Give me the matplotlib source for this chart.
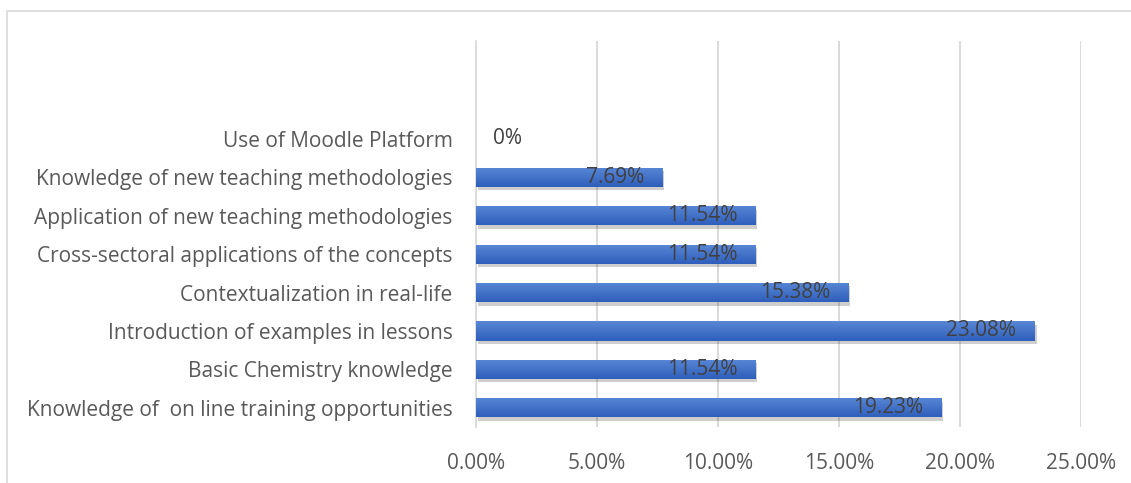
import matplotlib.pyplot as plt
import matplotlib.patheffects as pe
from matplotlib.patches import Rectangle
from matplotlib.ticker import FuncFormatter, MultipleLocator
import numpy as np

# Topics, bottom to top
topics = [
    "Knowledge of  on line training opportunities",
    "Basic Chemistry knowledge",
    "Introduction of examples in lessons",
    "Contextualization in real-life",
    "Cross-sectoral applications of the concepts",
    "Application of new teaching methodologies",
    "Knowledge of new teaching methodologies",
    "Use of Moodle Platform",
]

# Share of responses (%)
shares = [19.23, 11.54, 23.08, 15.38, 11.54, 11.54, 7.69, 0.0]

plt.rcParams['font.family'] = ['Open Sans', 'DejaVu Sans']
FS = 15

fig = plt.figure(figsize=(11.31, 4.83), dpi=100)
ax = fig.add_axes([476 / 1131, 56 / 483, 605 / 1131, 386 / 483])

y = np.arange(len(topics))
bars = ax.barh(y, shares, height=0.5, color='#4472C4', zorder=3,
               path_effects=[pe.SimplePatchShadow(offset=(1.5, -2.5), alpha=0.22,
                                                  shadow_rgbFace='#202020'),
                             pe.Normal()])

# vertical gradient on each bar
grad = np.linspace(0, 1, 256).reshape(-1, 1)
cmap = plt.matplotlib.colors.LinearSegmentedColormap.from_list(
    'barfill', ['#2E5EBB', '#5A88D6'])
for b in bars:
    if b.get_width() <= 0:
        continue
    x0, y0 = b.get_x(), b.get_y()
    im = ax.imshow(grad, cmap=cmap, aspect='auto', origin='lower',
                   interpolation='bilinear',
                   extent=(x0, x0 + b.get_width(), y0, y0 + b.get_height()),
                   zorder=4)
    im.set_clip_path(b)

# value labels just inside the bar ends
for yi, v in zip(y, shares):
    if v > 0:
        ax.annotate(f"{v:.2f}%", (v, yi), xytext=(-13, 0),
                    textcoords='offset points', ha='right', va='center',
                    fontsize=FS, color='#404040', zorder=5)
    else:
        ax.annotate("0%", (v, yi), xytext=(12, 0),
                    textcoords='offset points', ha='left', va='center',
                    fontsize=FS, color='#404040', zorder=5)

ax.set_xlim(0, 25)
ax.set_ylim(-0.5, 9.55)
ax.xaxis.set_major_locator(MultipleLocator(5))
ax.xaxis.set_major_formatter(FuncFormatter(lambda v, _: f"{v:.2f}%"))
ax.set_yticks(y)
ax.set_yticklabels(topics)
ax.tick_params(axis='y', length=0, pad=17, labelsize=FS, labelcolor='#595959')
ax.tick_params(axis='x', length=0, pad=19, labelsize=FS, labelcolor='#595959')

ax.grid(axis='x', color='#D9D9D9', linewidth=1.4, zorder=0)
for s in ['top', 'right', 'bottom']:
    ax.spines[s].set_visible(False)
ax.spines['left'].set_color('#D9D9D9')
ax.spines['left'].set_linewidth(1.2)

# chart frame
fig.patches.append(Rectangle((7 / 1131, -0.1), 1.2, (483 - 11) / 483 + 0.1,
                             transform=fig.transFigure, fill=False,
                             edgecolor='#D9D9D9', linewidth=1.2))

fig.savefig("out.png", dpi=100)
